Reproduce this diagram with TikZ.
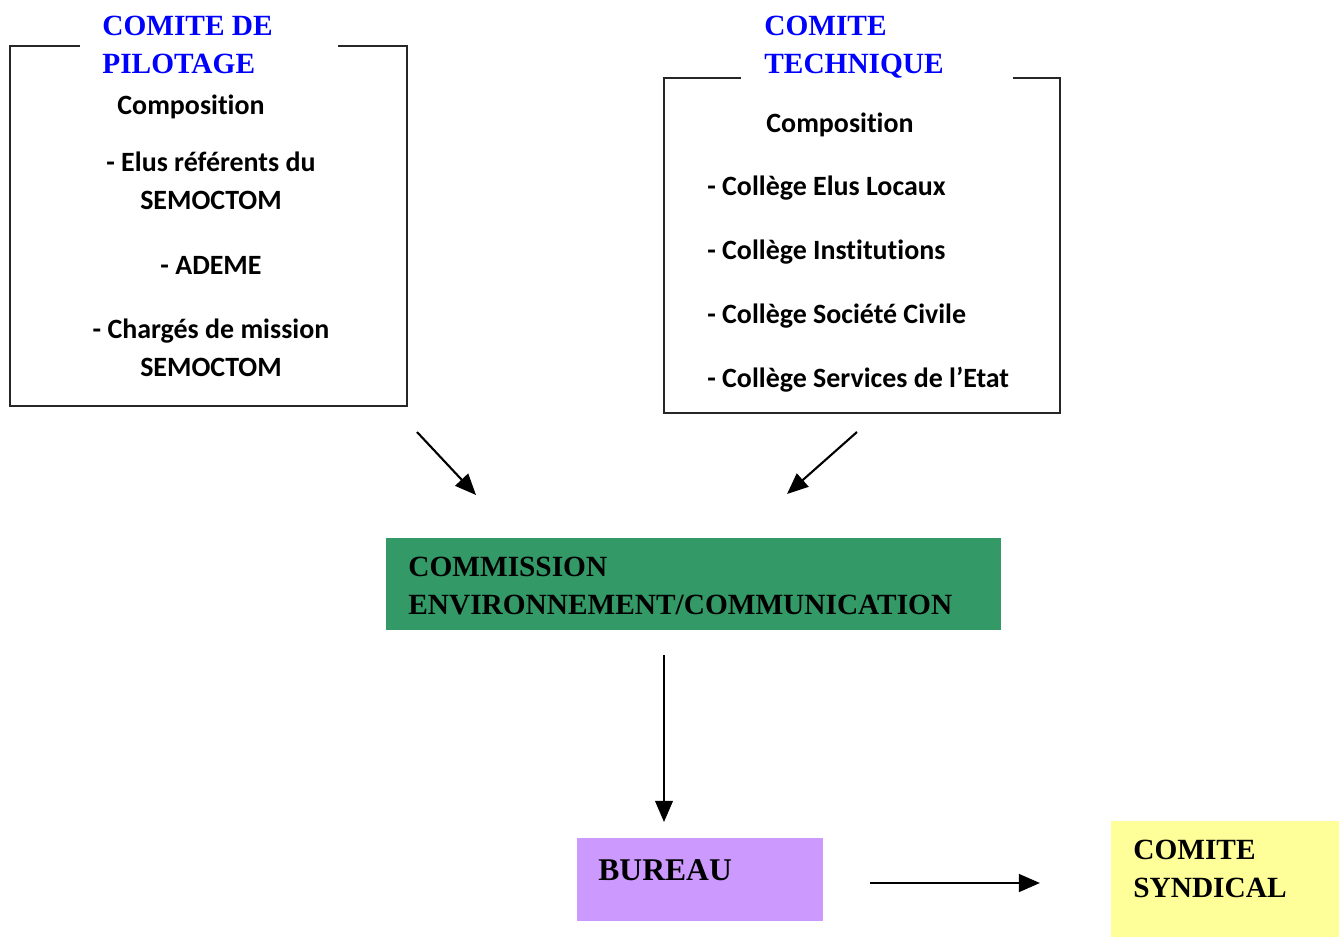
\documentclass[tikz,border=0pt]{standalone}
\usepackage{fontspec}
\setmainfont{Liberation Serif}
\newfontfamily\compfont[Ligatures=NoCommon]{Carlito}
\usepackage{tikz}
\usetikzlibrary{arrows.meta}
\usetikzlibrary{positioning}
\definecolor{titleBlue}{HTML}{0000FF}
\definecolor{commGreen}{HTML}{339966}
\definecolor{bureauPurple}{HTML}{CC99FF}
\definecolor{syndYellow}{HTML}{FFFF99}

\tikzset{
  title/.style={font=\bfseries\fontsize{16.7}{22}\selectfont, align=left, inner sep=0pt},
  bluetitle/.style={title, text=titleBlue},
  item/.style={font=\compfont\bfseries\fontsize{15.9}{21.5}\selectfont, inner sep=0pt},
  frame/.style={line width=1.1pt, draw=black!85},
  flow/.style={-{Triangle[length=12pt,width=10pt]}, line width=1.2pt},
}

\begin{document}
\begin{tikzpicture}[x=0.02cm, y=-0.02cm]
  \useasboundingbox (0,0) rectangle (1339,937);

  %% comite de pilotage
  \draw[frame] (80,46) -- (10,46) -- (10,406) -- (407,406) -- (407,46) -- (338,46);
  \node[bluetitle, anchor=west] (pil-title) at (102,45) {COMITE DE\\PILOTAGE};
  \node[item] (pil-comp) at (191,107) {Composition};
  \node[item, align=center] (pil-elus) at (211,181) {- Elus référents du\\SEMOCTOM};
  \node[item] (pil-ademe) at (211,265) {- ADEME};
  \node[item, align=center] (pil-charges) at (211,348) {- Chargés de mission\\SEMOCTOM};
  \coordinate (pil-out) at (417,432);
  \coordinate (pil-in) at (476,495);

  %% comite technique
  \draw[frame] (741,78) -- (664,78) -- (664,413) -- (1060,413) -- (1060,78) -- (1013,78);
  \node[bluetitle, anchor=west] (tech-title) at (764,47) {COMITE\\TECHNIQUE};
  \node[item] (tech-comp) at (840,125) {Composition};
  \node[item, anchor=west] (tech-elus) at (707,188) {- Collège Elus Locaux};
  \node[item, anchor=west] (tech-inst) at (707,252) {- Collège Institutions};
  \node[item, anchor=west] (tech-civ) at (707,316) {- Collège Société Civile};
  \node[item, anchor=west] (tech-etat) at (707,380) {- Collège Services de l’Etat};
  \coordinate (tech-out) at (857,432);
  \coordinate (tech-in) at (787,494);

  %% commission
  \node[fill=commGreen, minimum width=12.3cm, minimum height=1.84cm] (comm) at (693.5,584) {};
  \node[title, anchor=west] (comm-text) at (408,586) {COMMISSION\\ENVIRONNEMENT/COMMUNICATION};
  \coordinate (comm-out) at (664,655);

  %% bureau
  \node[fill=bureauPurple, minimum width=4.92cm, minimum height=1.66cm] (bureau) at (700,879.5) {};
  \node[title, anchor=west, font=\bfseries\fontsize{18}{22}\selectfont] (bureau-text) at (598,870) {BUREAU};
  \coordinate (bureau-in) at (664,822);
  \coordinate (bureau-out) at (870,883);

  %% comite syndical
  \node[fill=syndYellow, minimum width=4.56cm, minimum height=2.32cm] (synd) at (1225,879) {};
  \node[title, anchor=west] (synd-text) at (1133,869) {COMITE\\SYNDICAL};
  \coordinate (synd-in) at (1040,883);

  % arrows
  \draw[flow] (pil-out) -- (pil-in);
  \draw[flow] (tech-out) -- (tech-in);
  \draw[flow] (comm-out) -- (bureau-in);
  \draw[flow, line width=1.6pt] (bureau-out) -- (synd-in);
\end{tikzpicture}
\end{document}
